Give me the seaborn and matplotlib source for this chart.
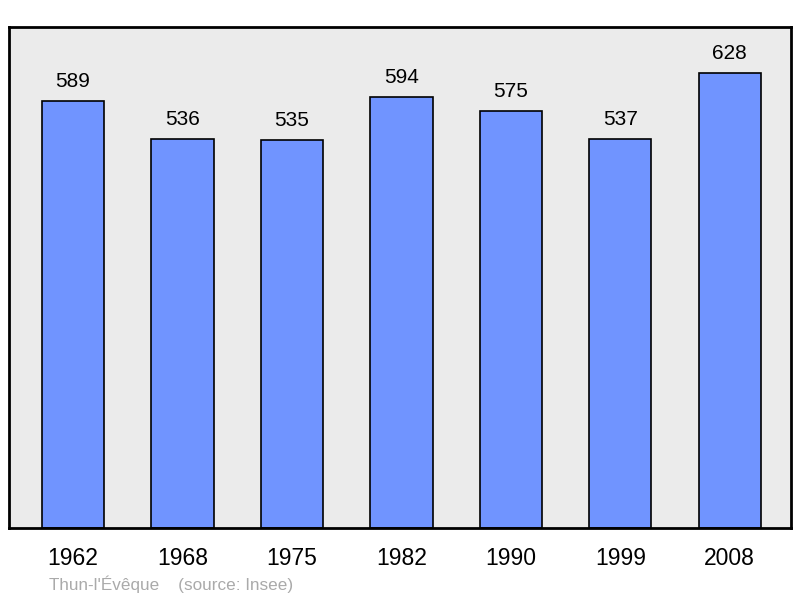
import pandas as pd
import matplotlib.pyplot as plt
import seaborn as sns

years = ["1962", "1968", "1975", "1982", "1990", "1999", "2008"]
population = [589, 536, 535, 594, 575, 537, 628]

df = pd.DataFrame({"annee": years, "pop": population})

sns.set_theme(style="white")
plt.rcParams["font.family"] = ["Liberation Sans", "DejaVu Sans"]

fig = plt.figure(figsize=(8, 5.98), dpi=100)
ax = fig.add_axes([0.01125, 0.117, 0.9775, 0.8378])
ax.set_facecolor("#ebebeb")

sns.barplot(data=df, x="annee", y="pop", color="#7094ff", saturation=1,
            width=0.57, edgecolor="black", linewidth=1.2, ax=ax)

for i, v in enumerate(population):
    ax.text(i, v + 14, str(v), ha="center", va="bottom", fontsize=15, color="black")

ax.set_xlim(-0.585, 6.56)
ax.set_ylim(0, 691)
ax.set_yticks([])
ax.set_xlabel("")
ax.set_ylabel("")
ax.tick_params(axis="x", length=0, labelsize=16.5, pad=14, labelcolor="black")
for s in ax.spines.values():
    s.set_visible(True)
    s.set_color("black")
    s.set_linewidth(2)

fig.text(49 / 800, 1 - 584 / 598, "Thun-l'Évêque    (source: Insee)",
         fontsize=12.3, color="#aaaaaa", ha="left", va="center")

fig.savefig("out.png", dpi=100)
